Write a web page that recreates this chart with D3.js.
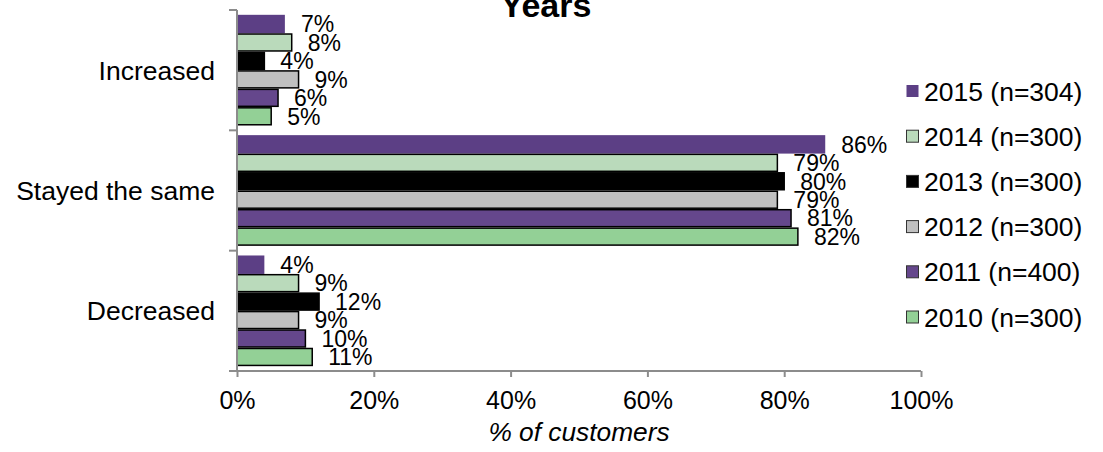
<!DOCTYPE html>
<html>
<head>
<meta charset="utf-8">
<script src="https://cdn.jsdelivr.net/npm/d3@7"></script>
<style>
  html, body { margin: 0; padding: 0; background: #fff; }
  svg { display: block; font-family: Arial, "Liberation Sans", sans-serif; }
</style>
</head>
<body>
<svg id="chart" width="1103" height="452"></svg>
<script>
// Answer categories, top to bottom
const categories = ["Increased", "Stayed the same", "Decreased"];
// Survey waves, in the order the bars are stacked inside each group
const years = ["2015 (n=304)", "2014 (n=300)", "2013 (n=300)", "2012 (n=300)", "2011 (n=400)", "2010 (n=300)"];
// Share of customers (%) per wave, listed in category order
const values2015 = [7, 86, 4];
const values2014 = [8, 79, 9];
const values2013 = [4, 80, 12];
const values2012 = [9, 79, 9];
const values2011 = [6, 81, 10];
const values2010 = [5, 82, 11];
const xTicks = [0, 20, 40, 60, 80, 100];

const seriesValues = [values2015, values2014, values2013, values2012, values2011, values2010];
const fills = ["#5c3f85", "#badabb", "#000000", "#c0c0c0", "#65478c", "#93d096"];
const strokes = [null, "#000", "#000", "#000", "#000", "#000"];

const svg = d3.select("#chart");
const plot = { left: 237, right: 921, top: 10, bottom: 371 };

const x = d3.scaleLinear().domain([0, 100]).range([plot.left, plot.right]);
const y0 = d3.scaleBand().domain(categories).range([plot.top, plot.bottom])
  .paddingInner(0.08).paddingOuter(0.04);
const y1 = d3.scaleBand().domain(years).range([0, y0.bandwidth()]);

// Title (last line)
svg.append("text")
  .attr("x", 546).attr("y", 17)
  .attr("text-anchor", "middle")
  .attr("font-size", 34).attr("font-weight", "bold")
  .text("Years");

// Bars
const rows = [];
categories.forEach((c, ci) => {
  years.forEach((yr, si) => rows.push({ cat: c, year: yr, si, v: seriesValues[si][ci] }));
});

const g = svg.append("g");
g.selectAll("rect").data(rows).join("rect")
  .attr("x", x(0))
  .attr("y", d => y0(d.cat) + y1(d.year) + (strokes[d.si] ? 0.75 : 0))
  .attr("width", d => x(d.v) - x(0))
  .attr("height", d => y1.bandwidth() - (strokes[d.si] ? 1.5 : 0))
  .attr("fill", d => fills[d.si])
  .attr("stroke", d => strokes[d.si])
  .attr("stroke-width", 1.5);

// Value labels
g.selectAll("text.val").data(rows).join("text")
  .attr("class", "val")
  .attr("x", d => x(d.v) + 16)
  .attr("y", d => y0(d.cat) + y1(d.year) + y1.bandwidth() / 2)
  .attr("dy", "0.36em")
  .attr("font-size", 23)
  .text(d => d.v + "%");

// X axis
const xAxis = d3.axisBottom(x).tickValues(xTicks).tickFormat(v => v + "%").tickSize(6).tickPadding(14);
const gx = svg.append("g").attr("transform", `translate(0,${plot.bottom})`).call(xAxis);
gx.select(".domain").attr("stroke", "#8c8c8c").attr("stroke-width", 2)
  .attr("d", `M${plot.left},0H${plot.right}`);
gx.selectAll(".tick line").attr("stroke", "#8c8c8c").attr("stroke-width", 2);
gx.selectAll(".tick text").attr("font-size", 25).attr("fill", "#000")
  .attr("font-family", "Arial, 'Liberation Sans', sans-serif");

// Y axis: line with boundary ticks between categories
const yBounds = [plot.top, ...categories.slice(1).map(c => y0(c) - y0.step() * y0.paddingInner() / 2), plot.bottom];
const gy = svg.append("g");
gy.append("line").attr("x1", plot.left).attr("x2", plot.left)
  .attr("y1", plot.top).attr("y2", plot.bottom)
  .attr("stroke", "#8c8c8c").attr("stroke-width", 2);
gy.selectAll("line.tk").data(yBounds).join("line").attr("class", "tk")
  .attr("x1", plot.left - 8).attr("x2", plot.left)
  .attr("y1", v => v).attr("y2", v => v)
  .attr("stroke", "#8c8c8c").attr("stroke-width", 2);
gy.selectAll("text").data(categories).join("text")
  .attr("x", plot.left - 22)
  .attr("y", c => y0(c) + y0.bandwidth() / 2)
  .attr("dy", "0.36em")
  .attr("text-anchor", "end")
  .attr("font-size", 26.5)
  .text(c => c);

// Axis title
svg.append("text")
  .attr("x", (plot.left + plot.right) / 2).attr("y", 441)
  .attr("text-anchor", "middle")
  .attr("font-size", 26.3).attr("font-style", "italic")
  .text("% of customers");

// Legend
const legendY = d3.scalePoint().domain(years).range([91, 317]);
const lg = svg.append("g");
const items = lg.selectAll("g").data(years).join("g")
  .attr("transform", yr => `translate(906,${legendY(yr)})`);
items.append("rect")
  .attr("x", 0.5).attr("y", -6).attr("width", 12).attr("height", 12)
  .attr("fill", (yr, i) => fills[i])
  .attr("stroke", (yr, i) => strokes[i] ? "#333" : null)
  .attr("stroke-width", 1);
items.append("text")
  .attr("x", 18).attr("dy", "0.36em")
  .attr("font-size", 26.5)
  .text(yr => yr);
</script>
</body>
</html>
